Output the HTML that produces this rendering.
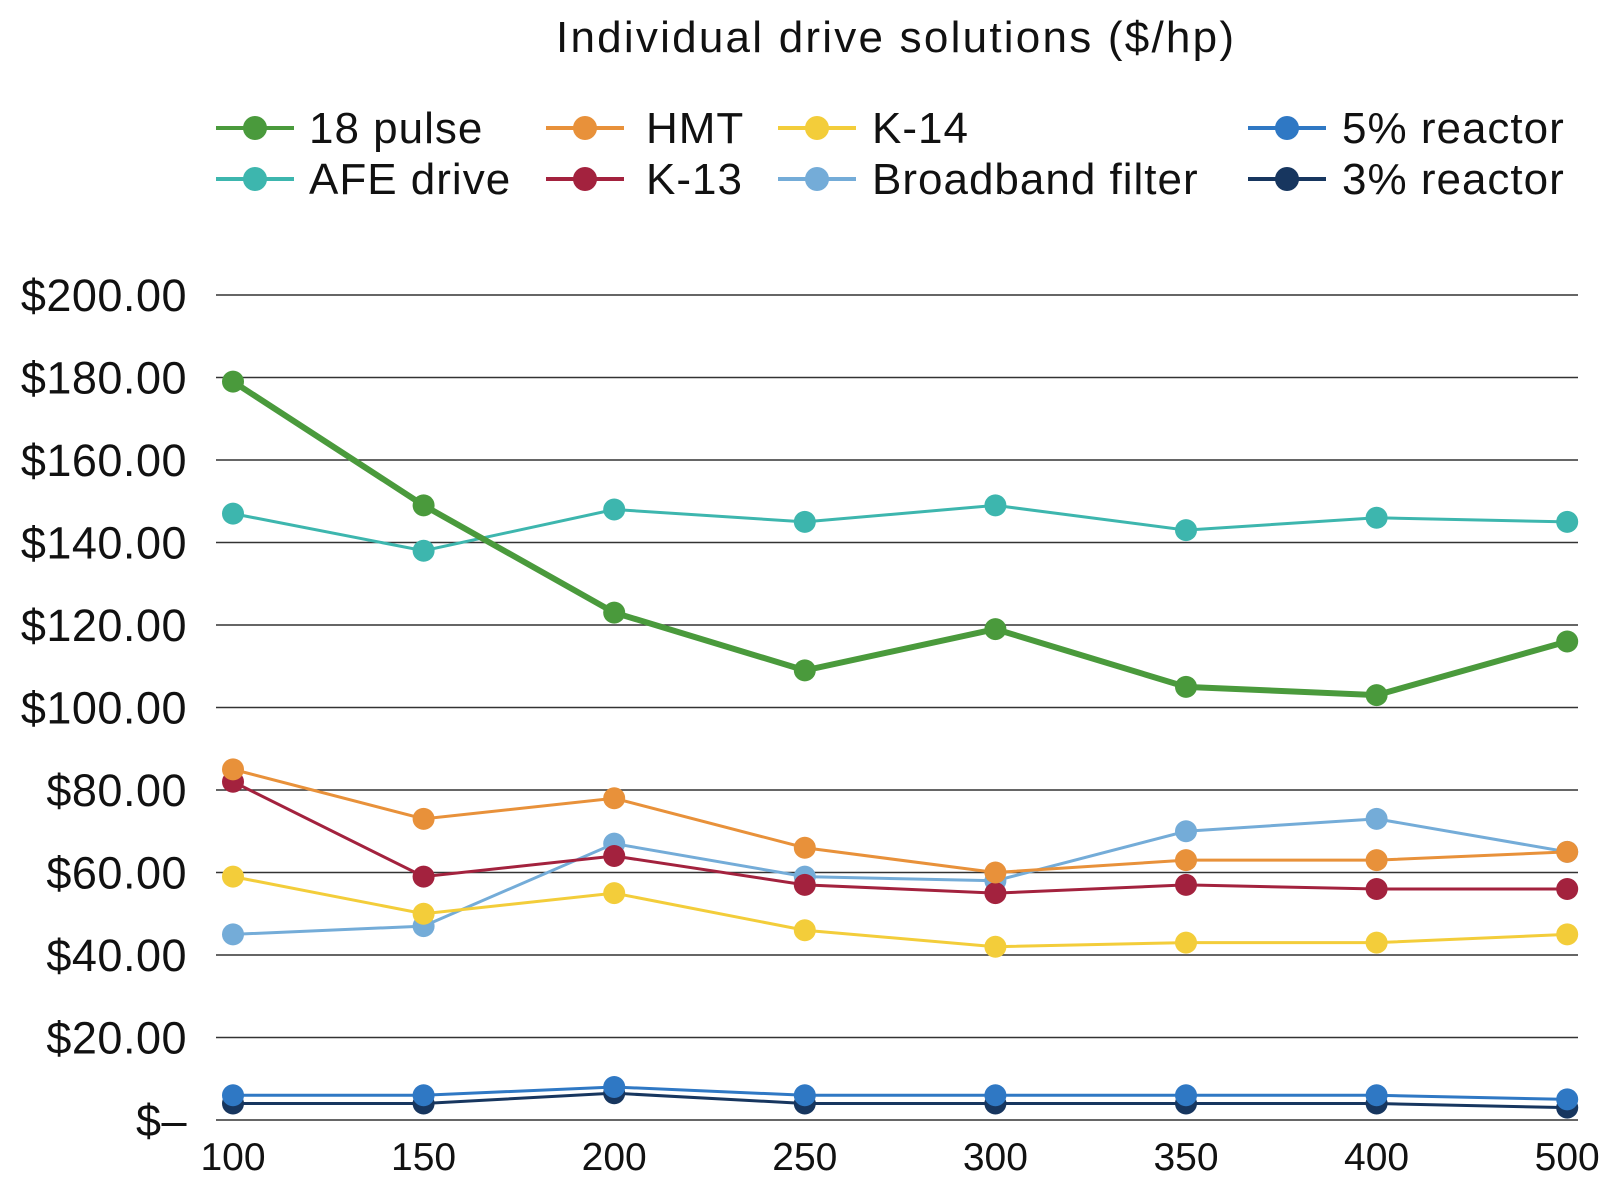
<!DOCTYPE html>
<html><head><meta charset="utf-8"><style>
body{margin:0;background:#fff;width:1614px;height:1196px;overflow:hidden;font-family:"Liberation Sans",sans-serif}
svg text{font-family:"Liberation Sans",sans-serif;fill:#111}
</style></head><body>
<svg id="chart" width="1614" height="1196" xmlns="http://www.w3.org/2000/svg">
<text x="895" y="52" font-size="44" text-anchor="middle" textLength="678" lengthAdjust="spacing">Individual drive solutions ($/hp)</text>
<g id="grid"></g><g id="series"></g><g id="legend"></g>
</svg>
<script>
const categories=["100","150","200","250","300","350","400","500"];
const yTicks=[0,20,40,60,80,100,120,140,160,180,200];
const yTickLabels=["$–","$20.00","$40.00","$60.00","$80.00","$100.00","$120.00","$140.00","$160.00","$180.00","$200.00"];
const names=["18 pulse","AFE drive","HMT","K-13","K-14","Broadband filter","5% reactor","3% reactor"];
const colors=["#4a9a3c","#3db6ae","#e8913a","#a3223e","#f3cd3a","#74acd8","#2f78c4","#17365f"];
const s18=[179,149,123,109,119,105,103,116];
const sAFE=[147,138,148,145,149,143,146,145];
const sHMT=[85,73,78,66,60,63,63,65];
const sK13=[82,59,64,57,55,57,56,56];
const sK14=[59,50,55,46,42,43,43,45];
const sBB=[45,47,67,59,58,70,73,65];
const s5=[6,6,8,6,6,6,6,5];
const s3=[4,4,6.5,4,4,4,4,3];
const seriesData=[s18,sAFE,sHMT,sK13,sK14,sBB,s5,s3];
const NS="http://www.w3.org/2000/svg";
const x=i=>233+i*190.6;
const y=v=>1120-v*4.125;
function mk(tag,attrs,parent){const e=document.createElementNS(NS,tag);for(const k in attrs)e.setAttribute(k,attrs[k]);parent.appendChild(e);return e;}
const grid=document.getElementById('grid');
yTicks.forEach((t,i)=>{
 const l=mk('line',{x1:216,x2:1578,y1:y(t),y2:y(t),stroke:'#333','stroke-width':1.6},grid);
 
 
 const tx=mk('text',{x:187,y:y(t)+16,'font-size':45,'text-anchor':'end','letter-spacing':'0.5'},grid);
 tx.textContent=yTickLabels[i];
 
 
});
categories.forEach((c,i)=>{
 const tx=mk('text',{x:x(i),y:1170,'font-size':39,'text-anchor':'middle'},grid);
 tx.textContent=c;
 
 
});
const sg=document.getElementById('series');
for(let k=seriesData.length-1;k>=0;k--){
 const d=seriesData[k];
 const g=mk('g',{},sg);
 
 
 const p=mk('polyline',{points:d.map((v,i)=>x(i)+','+y(v)).join(' '),fill:'none',stroke:colors[k],'stroke-width':k===0?6:3},g);
 
 
 d.forEach((v,i)=>{
  const c=mk('circle',{cx:x(i),cy:y(v),r:11,fill:colors[k]},g);
  
  
 });
}
const lg=document.getElementById('legend');
const lx=[216,546,778,1248], tx0=[309,646,872,1342], rows=[124,175];
const order=[[0,0,0],[1,0,1],[2,1,0],[3,1,1],[4,2,0],[5,2,1],[6,3,0],[7,3,1]];
order.forEach(([k,col,row])=>{
 const g=mk('g',{},lg);
 
 
 const yy=rows[row]+4;
 mk('line',{x1:lx[col],x2:lx[col]+78,y1:yy,y2:yy,stroke:colors[k],'stroke-width':4},g);
 mk('circle',{cx:lx[col]+39,cy:yy,r:12,fill:colors[k]},g);
 const t=mk('text',{x:tx0[col],y:rows[row]+19,'font-size':44,'letter-spacing':'1'},g);
 t.textContent=names[k];
});
</script>
</body></html>
